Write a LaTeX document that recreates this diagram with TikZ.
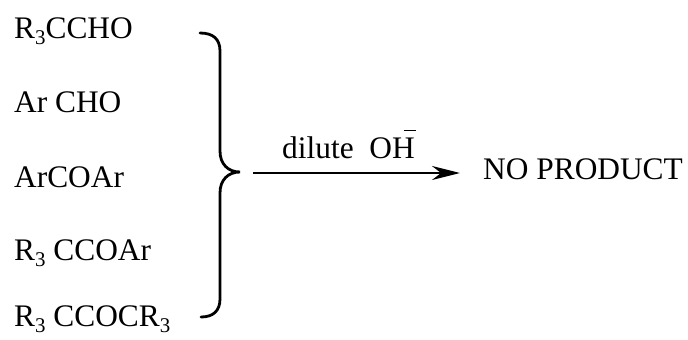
\documentclass[tikz,border=0pt]{standalone}
\usepackage{fontspec}
\setmainfont{Liberation Serif}
\usetikzlibrary{arrows.meta}
\newcommand\sbt{\raisebox{-0.22em}{\fontsize{21}{21}\selectfont 3}}
\newcommand\barH{\ooalign{H\cr\hfill\raisebox{0.86em}{\rule{0.4em}{0.045em}}\kern-0.05em\cr}}
\begin{document}
\begin{tikzpicture}[x=1bp,y=1bp,
  chem/.style={anchor=base west,inner sep=0pt,font=\fontsize{31.5}{31.5}\selectfont},
  brace/.style={line width=2.8pt,line cap=round},
  rxn/.style={line width=2.6pt,-{Stealth[length=28bp,width=14bp]}}]
\useasboundingbox (0,0) rectangle (688,339);
\node[chem] (a) at (14,301) {R\sbt CCHO};
\node[chem] (b) at (14,227) {Ar CHO};
\node[chem] (c) at (14,152) {ArCOAr};
\node[chem] (d) at (14,79) {R\sbt\ CCOAr};
\node[chem] (e) at (14,13) {R\sbt\ CCOCR\sbt};
\coordinate (btop) at (200,306);
\coordinate (tip) at (240,167);
\coordinate (bbot) at (201,22);
\draw[brace] (btop) .. controls (213,306) and (220,300) .. (220,288)
  -- (220,188) .. controls (220,175) and (228,167) .. (tip)
  .. controls (228,167) and (220,159) .. (220,146)
  -- (220,40) .. controls (220,28) and (213,22) .. (bbot);
\coordinate (astart) at (253,166);
\coordinate (aend) at (460,166);
\draw[rxn] (astart) -- (aend);
\node[chem] (cond) at (282,181) {dilute\ \ O\barH};
\node[chem] (prod) at (483,160) {NO PRODUCT};
\end{tikzpicture}
\end{document}
